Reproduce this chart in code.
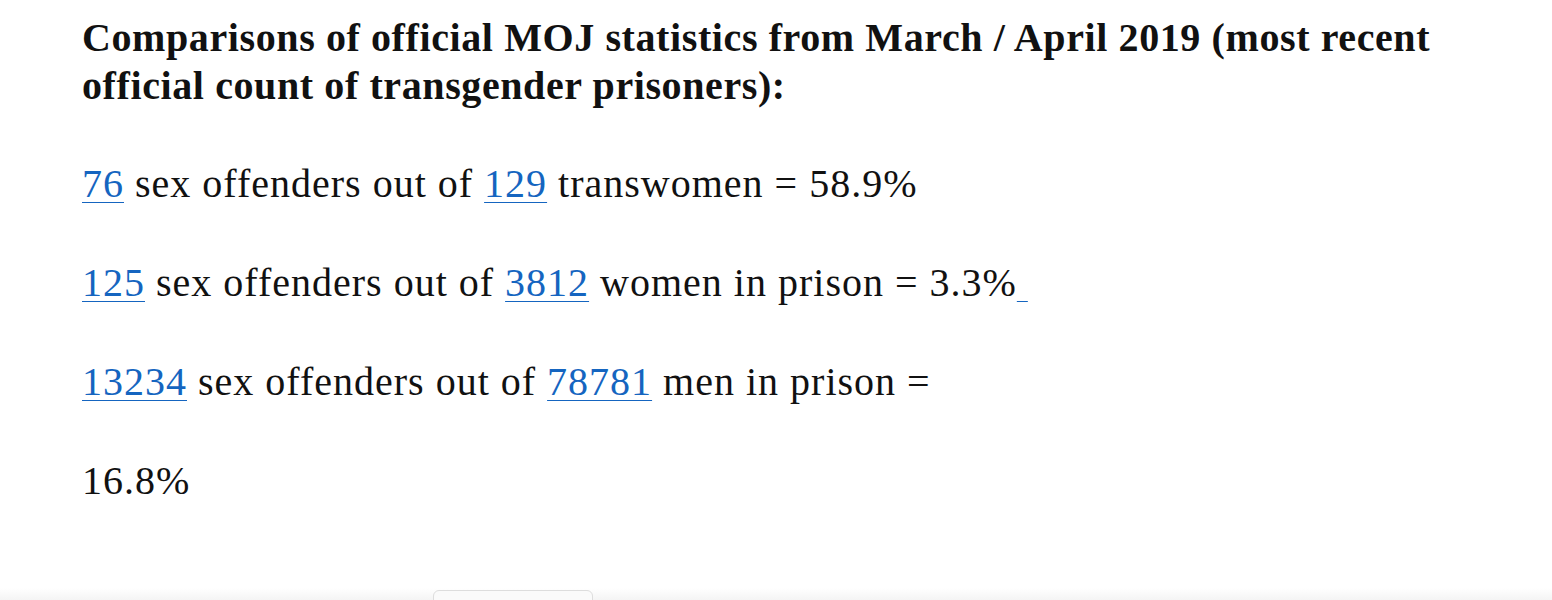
<!DOCTYPE html>
<html>
<head>
<meta charset="utf-8">
<script src="https://cdn.jsdelivr.net/npm/chart.js@4"></script>
<style>
  body { margin: 0; width: 1552px; height: 600px; background: #fff; overflow: hidden;
         font-family: "Liberation Serif", "DejaVu Serif", serif; color: #111; position: relative; }
  #wrap { position: absolute; left: 82px; top: 14px; white-space: nowrap; }
  h1 { font-size: 40px; letter-spacing: 0.6px; line-height: 48px; margin: 0; font-weight: bold; }
  p { font-size: 40px; letter-spacing: 1px; margin: 0; height: 99px; line-height: 50px; }
  #rows { margin-top: 49px; }
  a { color: #1565c0; text-decoration: underline; text-decoration-thickness: 1px; text-underline-offset: 5px; }
  #btn { position: absolute; left: 433px; top: 590px; width: 158px; height: 30px;
         border: 1px solid #ddd; border-radius: 6px; background: #fafafa; }
  #shade { position: absolute; left: 0; top: 588px; width: 1552px; height: 12px;
           background: linear-gradient(#fff, #f4f4f4); }
</style>
</head>
<body>
<div id="shade"></div>
<div id="btn"></div>
<div id="wrap">
  <h1>Comparisons of official MOJ statistics from March / April 2019 (most recent<br>official count of transgender prisoners):</h1>
  <div id="rows"></div>
</div>
<script>
/* DATA */
const groups = ["transwomen", "women in prison", "men in prison"];
const offenders = [76, 125, 13234];
const totals = [129, 3812, 78781];
const percents = ["58.9%", "3.3%", "16.8%"];

/* ROWS */
let html = "";
groups.forEach((g, i) => {
  if (i < 2) {
    html += `<p><a>${offenders[i]}</a> sex offenders out of <a>${totals[i]}</a> ${g} = ${percents[i]}${i == 1 ? '<a>&nbsp;</a>' : ''}</p>`;
  } else {
    html += `<p><a>${offenders[i]}</a> sex offenders out of <a>${totals[i]}</a> ${g} =</p>`;
    html += `<p>${percents[i]}</p>`;
  }
});
document.getElementById("rows").innerHTML = html;
</script>
</body>
</html>
